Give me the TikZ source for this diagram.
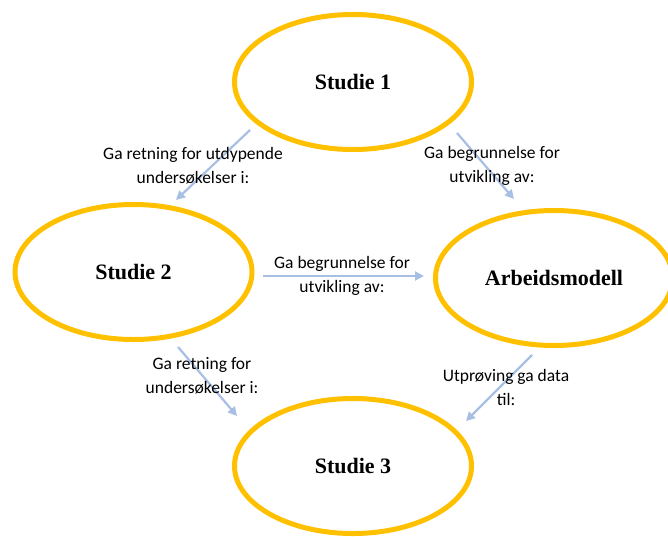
\documentclass[tikz,border=0pt]{standalone}
\usepackage{fontspec}
\setmainfont{Liberation Serif}
\newfontfamily\labfont{Carlito}
\usetikzlibrary{shapes.geometric,arrows.meta}
\definecolor{gold}{RGB}{255,192,0}
\definecolor{arrowblue}{RGB}{168,191,228}
\tikzset{
  studie/.style={ellipse, draw=gold, line width=5pt, minimum width=237pt, minimum height=135pt, inner sep=0pt,
    font=\fontsize{22}{26}\selectfont\bfseries},
  conn/.style={draw=arrowblue, line width=2.2pt, -{Triangle[length=9pt,width=9pt]}},
  lbl/.style={align=center, inner sep=0pt, font=\labfont\fontsize{17.5}{24}\selectfont}
}
\begin{document}
\begin{tikzpicture}[x=1pt,y=-1pt]
\useasboundingbox (0,0) rectangle (668,536);
\node[studie] (s1) at (353,82) {Studie 1};
\node[studie] (s2) at (133.5,272) {Studie 2};
\node[studie] (am) at (554,278) {Arbeidsmodell};
\node[studie] (s3) at (353,466) {Studie 3};

\coordinate (a1s) at (250,130); \coordinate (a1e) at (176,200);
\coordinate (a2s) at (457,133); \coordinate (a2e) at (514,199);
\coordinate (a3s) at (263,276); \coordinate (a3e) at (424,276);
\coordinate (a4s) at (178,347); \coordinate (a4e) at (237,416);
\coordinate (a5s) at (532,355); \coordinate (a5e) at (466,421);

\draw[conn] (a1s) -- (a1e);
\draw[conn] (a2s) -- (a2e);
\draw[conn] (a3s) -- (a3e);
\draw[conn] (a4s) -- (a4e);
\draw[conn] (a5s) -- (a5e);

\node[lbl] (l1) at (193,166) {Ga retning for utdypende\\undersøkelser i:};
\node[lbl] (l2) at (492,166) {Ga begrunnelse for\\utvikling av:};
\node[lbl] (l3) at (342,276) {Ga begrunnelse for\\utvikling av:};
\node[lbl] (l4) at (202,376) {Ga retning for\\undersøkelser i:};
\node[lbl] (l5) at (506,387) {Utprøving ga data\\til:};
\end{tikzpicture}
\end{document}
